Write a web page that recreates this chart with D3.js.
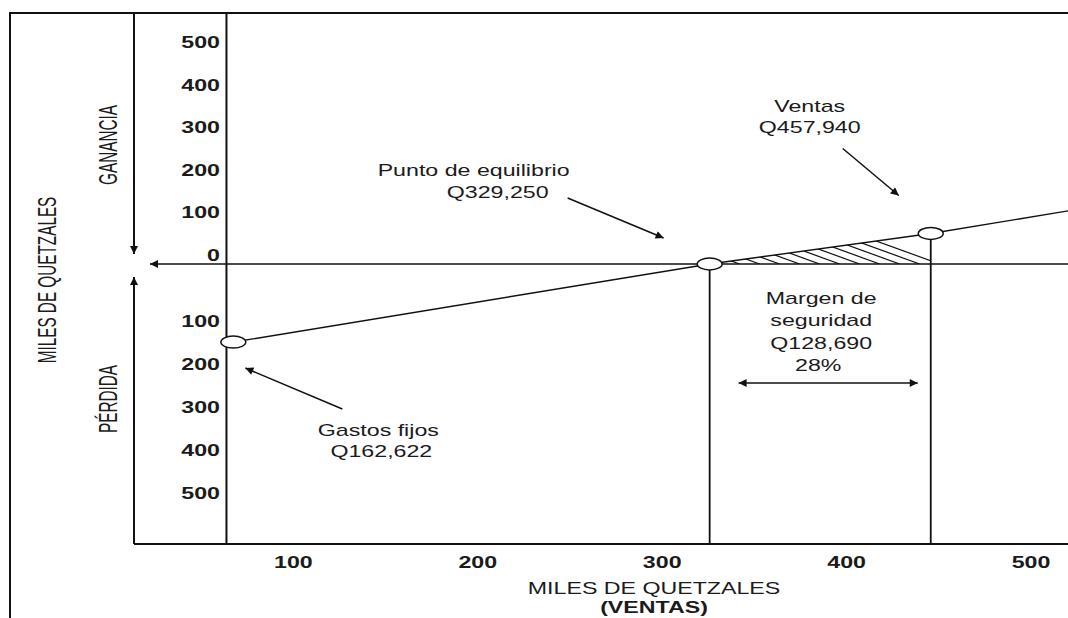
<!DOCTYPE html>
<html>

<head>
    <meta charset="UTF-8">
    <style>
        body {
            margin: 0;
            background: #fff;
        }

        svg text {
            font-family: "Liberation Sans", Arial, sans-serif;
            font-size: 16px;
            fill: #1b1b1b;
        }
    </style>
</head>

<body>
    <svg></svg>
    <script src="https://d3js.org/d3.v7.min.js"></script>

    <script>

        // values in miles de quetzales
        let xTicks = [100, 200, 300, 400, 500];
        let gainTicks = [500, 400, 300, 200, 100, 0];
        let lossTicks = [100, 200, 300, 400, 500];

        let salesPts = [52, 329.25, 457.94, 540];
        let profitPts = [-162.622, 0, 63.56, 112];

        let puntoEquilibrio = 329.25;
        let ventas = 457.94;
        let gastosFijos = 162.622;
        let margenSeguridad = 128.69;
        let margenPct = 28;
        let yAxisAt = 48;

        let width = 1068, height = 618;
        let topY = 13, bottomY = 544;

        let svg = d3.select("svg")
            .attr("width", width)
            .attr("height", height);

        // scale for the marks
        let x = d3.scaleLinear().domain([0, 500]).range([144, 1003]);
        let y = d3.scaleLinear().domain([0, 100]).range([264, 216]);

        // tick labels are printed on their own spacing in the original
        let xLab = d3.scaleLinear().domain([0, 500]).range([109, 1031]);
        let gainLab = d3.scaleLinear().domain([0, 500]).range([255, 42.6]);
        let lossLab = d3.scaleLinear().domain([100, 500]).range([320.8, 493.4]);

        let fmtQ = v => "Q" + d3.format(",")(Math.round(v * 1000));

        let defs = svg.append("defs");
        defs.append("marker")
            .attr("id", "head")
            .attr("viewBox", "0 -5 10 10")
            .attr("refX", 10)
            .attr("refY", 0)
            .attr("markerUnits", "userSpaceOnUse")
            .attr("markerWidth", 11)
            .attr("markerHeight", 8)
            .attr("orient", "auto-start-reverse")
            .append("path")
            .attr("d", "M0,-5L10,0L0,5Z")
            .attr("fill", "#111");

        let zeroY = y(0);
        let axisX = x(yAxisAt);

        // frame
        svg.append("path")
            .attr("d", `M10,${height}V${topY}H${width}`)
            .attr("fill", "none")
            .attr("stroke", "#111")
            .attr("stroke-width", 2);

        let lines = svg.append("g")
            .attr("stroke", "#111")
            .attr("fill", "none");

        // ganancia / perdida arrows
        lines.append("line")
            .attr("x1", 134).attr("y1", topY)
            .attr("x2", 134).attr("y2", zeroY - 10)
            .attr("stroke-width", 2)
            .attr("marker-end", "url(#head)");
        lines.append("line")
            .attr("x1", 134).attr("y1", bottomY)
            .attr("x2", 134).attr("y2", zeroY + 13)
            .attr("stroke-width", 2)
            .attr("marker-end", "url(#head)");

        // zero line
        lines.append("line")
            .attr("x1", width).attr("y1", zeroY)
            .attr("x2", 150).attr("y2", zeroY)
            .attr("stroke-width", 1.6)
            .attr("marker-end", "url(#head)");

        // axes
        lines.append("line")
            .attr("x1", axisX).attr("y1", topY)
            .attr("x2", axisX).attr("y2", bottomY)
            .attr("stroke-width", 2);
        lines.append("line")
            .attr("x1", 134).attr("y1", bottomY)
            .attr("x2", width).attr("y2", bottomY)
            .attr("stroke-width", 2);

        // hatched safety margin
        let tri = [[puntoEquilibrio, 0], [ventas, profitPts[2]], [ventas, 0]];
        defs.append("clipPath")
            .attr("id", "tri")
            .append("path")
            .attr("d", "M" + tri.map(p => x(p[0]) + "," + y(p[1])).join("L") + "Z");

        lines.append("g")
            .attr("clip-path", "url(#tri)")
            .selectAll("line")
            .data(d3.range(x(puntoEquilibrio) + 30, x(ventas) + 20, 20))
            .enter()
            .append("line")
            .attr("x1", d => d - 160)
            .attr("y1", zeroY - 58)
            .attr("x2", d => d)
            .attr("y2", zeroY)
            .attr("stroke-width", 1.2);

        // vertical lines at break-even and sales
        [puntoEquilibrio, ventas].forEach((s, i) => {
            lines.append("line")
                .attr("x1", x(s)).attr("y1", y(profitPts[i + 1]))
                .attr("x2", x(s)).attr("y2", bottomY)
                .attr("stroke-width", 1.8);
        });

        // profit line
        let pts = salesPts.map((s, i) => [s, profitPts[i]]);
        lines.append("path")
            .datum(pts)
            .attr("d", d3.line().x(d => x(d[0])).y(d => y(d[1])))
            .attr("stroke-width", 1.4);

        // markers
        svg.append("g")
            .selectAll("ellipse")
            .data(pts.slice(0, 3))
            .enter()
            .append("ellipse")
            .attr("cx", d => x(d[0]))
            .attr("cy", d => y(d[1]))
            .attr("rx", 12.5)
            .attr("ry", 6)
            .attr("fill", "#fff")
            .attr("stroke", "#111")
            .attr("stroke-width", 1.4);

        function label(px, py, str, opt) {
            opt = opt || {};
            return svg.append("text")
                .attr("transform", `translate(${px},${py}) scale(${opt.sx || 1.45},1)`)
                .attr("text-anchor", opt.anchor || "middle")
                .attr("dy", "0.36em")
                .style("font-weight", opt.weight || "normal")
                .text(str);
        }

        function vlabel(px, py, str) {
            return svg.append("text")
                .attr("transform", `translate(${px},${py}) rotate(-90) scale(0.85,1.47)`)
                .attr("text-anchor", "middle")
                .attr("dy", "0.36em")
                .style("font-size", "18px")
                .text(str);
        }

        // tick labels
        xTicks.forEach(v => label(xLab(v), 562, v, { weight: "bold" }));
        gainTicks.forEach(v => label(220, gainLab(v), v, { weight: "bold", anchor: "end" }));
        lossTicks.forEach(v => label(220, lossLab(v), v, { weight: "bold", anchor: "end" }));

        // axis titles
        label(654, 588, "MILES DE QUETZALES");
        label(654, 607, "(VENTAS)", { weight: "bold" });
        vlabel(46, 280, "MILES DE QUETZALES");
        vlabel(107, 145, "GANANCIA");
        vlabel(107, 399, "PÉRDIDA");

        function arrow(x1, y1, x2, y2, both) {
            let l = lines.append("line")
                .attr("x1", x1).attr("y1", y1)
                .attr("x2", x2).attr("y2", y2)
                .attr("stroke-width", 1.5)
                .attr("marker-end", "url(#head)");
            if (both) l.attr("marker-start", "url(#head)");
        }

        // punto de equilibrio
        let bx = x(puntoEquilibrio), by = y(0);
        label(bx - 236, by - 94, "Punto de equilibrio");
        label(bx - 212, by - 72, fmtQ(puntoEquilibrio));
        arrow(bx - 142, by - 66, bx - 46, by - 26);

        // ventas
        let vx = x(ventas), vy = y(profitPts[2]);
        label(vx - 121, vy - 127, "Ventas");
        label(vx - 121, vy - 106, fmtQ(ventas));
        arrow(vx - 88, vy - 85, vx - 32, vy - 38);

        // gastos fijos
        let gx = x(salesPts[0]), gy = y(-gastosFijos);
        label(gx + 145, gy + 88, "Gastos fijos");
        label(gx + 148, gy + 109, fmtQ(gastosFijos));
        arrow(gx + 109, gy + 67, gx + 12, gy + 26);

        // margen de seguridad
        let mx = (bx + vx) / 2 + 1;
        label(mx, 298, "Margen de");
        label(mx, 320, "seguridad");
        label(mx, 343, fmtQ(margenSeguridad));
        label(mx - 3, 365, margenPct + "%");
        arrow(bx + 29, 383, vx - 13, 383, true);

    </script>

</body>

</html>
